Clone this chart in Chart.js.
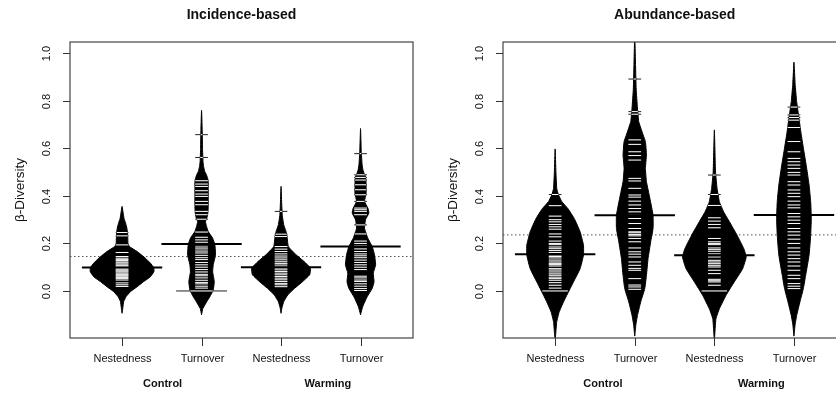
<!DOCTYPE html>
<html><head><meta charset="utf-8">
<script src="https://cdn.jsdelivr.net/npm/chart.js@4/dist/chart.umd.min.js"></script>
<style>
html,body{margin:0;padding:0;background:#fff;overflow:hidden;width:836px;height:393px;position:relative}
canvas{position:absolute;top:0}
#c1{left:0}
#c2{left:418px}
</style></head><body>
<canvas id="c1" width="418" height="393"></canvas>
<canvas id="c2" width="440" height="393"></canvas>
<script>
// ---------- labels ----------
const panelTitles = ["Incidence-based", "Abundance-based"];
const categories = ["Nestedness", "Turnover", "Nestedness", "Turnover"];
const groups = ["Control", "Warming"];
const yTicks = [0.0, 0.2, 0.4, 0.6, 0.8, 1.0];
const yTickLabels = ["0.0", "0.2", "0.4", "0.6", "0.8", "1.0"];
const yLabel = "β-Diversity";

// ---------- Incidence-based ----------
const incMeans = [0.099, 0.198, 0.100, 0.187];
const incOverall = 0.145;

const incCtrlNestY = [-0.094,-0.07,-0.045,-0.024,-0.003,0.018,0.039,0.06,0.081,0.098,0.117,0.138,0.166,0.187,0.2,0.24,0.265,0.285,0.305,0.332,0.356];
const incCtrlNestW = [0,0.01,0.02,0.05,0.105,0.19,0.27,0.357,0.40,0.40,0.357,0.294,0.19,0.092,0.075,0.07,0.06,0.045,0.025,0.012,0];
const incCtrlNestObs = [0.246,0.232,0.194,0.162,0.145,0.138,0.133,0.128,0.122,0.118,0.113,0.108,0.104,0.1,0.096,0.092,0.088,0.084,0.08,0.075,0.07,0.066,0.062,0.057,0.052,0.046,0.034,0.026,0.019];

const incCtrlTurnY = [-0.1,-0.075,-0.06,-0.04,-0.024,0.004,0.04,0.08,0.11,0.152,0.194,0.222,0.25,0.275,0.292,0.31,0.33,0.36,0.4,0.44,0.46,0.475,0.49,0.503,0.525,0.546,0.6,0.68,0.76];
const incCtrlTurnW = [0,0.015,0.04,0.075,0.105,0.147,0.16,0.14,0.147,0.176,0.168,0.14,0.084,0.06,0.05,0.07,0.08,0.084,0.084,0.084,0.084,0.076,0.06,0.04,0.025,0.018,0.012,0.008,0];
const incCtrlTurnObs = [0.658,0.562,0.464,0.45,0.44,0.422,0.408,0.398,0.377,0.363,0.335,0.321,0.302,0.248,0.226,0.215,0.205,0.195,0.185,0.177,0.168,0.16,0.15,0.14,0.132,0.12,0.11,0.1,0.09,0.08,0.07,0.064,0.055,0.045,0.036,0.03,0.02,0.012,0,0,0,0];

const incWarmNestY = [-0.094,-0.07,-0.045,-0.017,0.011,0.039,0.068,0.096,0.124,0.152,0.187,0.229,0.25,0.278,0.32,0.37,0.44];
const incWarmNestW = [0,0.012,0.034,0.084,0.17,0.27,0.36,0.37,0.29,0.19,0.092,0.076,0.063,0.034,0.015,0.008,0];
const incWarmNestObs = [0.335,0.239,0.229,0.187,0.176,0.166,0.156,0.147,0.139,0.131,0.123,0.116,0.109,0.102,0.096,0.089,0.082,0.075,0.068,0.061,0.054,0.047,0.04,0.032,0.026,0.018];

const incWarmTurnY = [-0.1,-0.08,-0.06,-0.024,0.011,0.039,0.075,0.11,0.152,0.187,0.222,0.264,0.3,0.328,0.349,0.377,0.41,0.45,0.48,0.49,0.51,0.532,0.58,0.684];
const incWarmTurnW = [0,0.015,0.034,0.084,0.147,0.17,0.16,0.19,0.176,0.147,0.092,0.05,0.063,0.105,0.092,0.05,0.07,0.07,0.065,0.05,0.03,0.02,0.01,0];
const incWarmTurnObs = [0.578,0.489,0.478,0.467,0.447,0.426,0.405,0.377,0.349,0.342,0.335,0.321,0.278,0.24,0.21,0.2,0.19,0.177,0.166,0.156,0.148,0.14,0.13,0.12,0.11,0.1,0.09,0.062,0.055,0.046,0.04,0.03,0.02,0.01,0.002];

// ---------- Abundance-based ----------
const abuMeans = [0.155, 0.319, 0.150, 0.320];
const abuOverall = 0.236;

const abuCtrlNestY = [-0.21,-0.17,-0.13,-0.089,-0.046,-0.004,0.038,0.094,0.151,0.193,0.249,0.305,0.347,0.376,0.406,0.432,0.5,0.598];
const abuCtrlNestW = [0,0.01,0.02,0.05,0.105,0.167,0.23,0.314,0.356,0.356,0.314,0.24,0.16,0.084,0.04,0.02,0.01,0];
const abuCtrlNestObs = [0.406,0.359,0.315,0.3,0.291,0.28,0.27,0.26,0.24,0.228,0.21,0.2,0.195,0.185,0.178,0.17,0.162,0.151,0.145,0.139,0.13,0.122,0.116,0.111,0.105,0.094,0.088,0.08,0.072,0.066,0.058,0.052,0.045,0.035,0.024,0.012,0,0];

const abuCtrlTurnY = [-0.19,-0.14,-0.103,-0.046,0.01,0.066,0.136,0.207,0.263,0.319,0.39,0.46,0.516,0.573,0.629,0.657,0.713,0.77,0.85,0.95,1.08];
const abuCtrlTurnW = [0,0.015,0.034,0.075,0.126,0.147,0.167,0.2,0.23,0.23,0.19,0.147,0.134,0.147,0.134,0.105,0.05,0.034,0.018,0.01,0];
const abuCtrlTurnObs = [0.892,0.755,0.744,0.636,0.617,0.586,0.57,0.551,0.474,0.463,0.432,0.404,0.395,0.378,0.362,0.347,0.333,0.319,0.305,0.284,0.263,0.249,0.245,0.238,0.232,0.221,0.207,0.181,0.165,0.155,0.143,0.122,0.108,0.095,0.087,0.052,0.025,0.017,0.007];

const abuWarmNestY = [-0.21,-0.16,-0.117,-0.075,-0.018,0.038,0.094,0.143,0.178,0.235,0.291,0.333,0.376,0.432,0.5,0.678];
const abuWarmNestW = [0,0.01,0.02,0.063,0.147,0.25,0.356,0.40,0.37,0.285,0.19,0.117,0.063,0.034,0.015,0];
const abuWarmNestObs = [0.488,0.406,0.36,0.308,0.294,0.28,0.266,0.221,0.207,0.2,0.195,0.181,0.174,0.167,0.156,0.15,0.143,0.129,0.122,0.115,0.108,0.101,0.087,0.073,0.049,0.043,0.038,0.024,0,0];

const abuWarmTurnY = [-0.19,-0.14,-0.103,-0.046,0.01,0.066,0.151,0.235,0.305,0.376,0.446,0.516,0.586,0.657,0.727,0.797,0.87,0.963];
const abuWarmTurnW = [0,0.015,0.034,0.075,0.118,0.147,0.19,0.21,0.218,0.21,0.19,0.16,0.126,0.092,0.063,0.034,0.015,0];
const abuWarmTurnObs = [0.774,0.741,0.73,0.719,0.688,0.629,0.586,0.558,0.544,0.53,0.516,0.499,0.488,0.46,0.446,0.425,0.411,0.397,0.378,0.362,0.35,0.326,0.312,0.298,0.284,0.263,0.249,0.235,0.218,0.2,0.181,0.165,0.151,0.136,0.122,0.105,0.087,0.066,0.052,0.031,0.02,0.01];

// ---------- drawing constants ----------
const X_MIN = 0.345, X_MAX = 4.66, Y_MIN = -0.198, Y_MAX = 1.048;
const HALF_LINE = 0.08, MAX_HALF_LINE = 0.48, MEAN_HALF = 0.505;
const FONT = '"Liberation Sans", Arial, Helvetica, sans-serif';

function widthAt(Y, W, v) {
  if (v <= Y[0] || v >= Y[Y.length - 1]) return 0;
  for (let i = 1; i < Y.length; i++) {
    if (v <= Y[i]) { const t = (v - Y[i-1]) / (Y[i] - Y[i-1]); return W[i-1] + t * (W[i] - W[i-1]); }
  }
  return 0;
}

function buildDatasets(p) {
  const ds = [];
  ds.push({ data: [{x: X_MIN, y: p.overall}, {x: X_MAX, y: p.overall}], borderColor: '#555', borderWidth: 1, borderDash: [1.5, 2.5], pointRadius: 0, fill: false, tension: 0, order: 10 });
  p.beans.forEach((b, i) => {
    const c = i + 1;
    const pts = [];
    for (let k = 0; k < b.Y.length; k++) pts.push({x: c + b.W[k], y: b.Y[k]});
    for (let k = b.Y.length - 2; k >= 0; k--) pts.push({x: c - b.W[k], y: b.Y[k]});
    ds.push({ data: pts, fill: 'shape', backgroundColor: '#000', borderColor: '#000', borderWidth: 1, tension: 0.12, pointRadius: 0, order: 5 });
    const counts = new Map();
    b.obs.forEach(v => counts.set(v, (counts.get(v) || 0) + 1));
    const blk = [], wht = [];
    counts.forEach((n, v) => {
      const L = Math.min(HALF_LINE * n, MAX_HALF_LINE);
      const w = Math.min(L, widthAt(b.Y, b.W, v));
      blk.push({x: c - L, y: v}, {x: c + L, y: v}, {x: c, y: null});
      if (w > 0) wht.push({x: c - w, y: v}, {x: c + w, y: v}, {x: c, y: null});
    });
    ds.push({ data: blk, borderColor: '#222', borderWidth: 1, pointRadius: 0, tension: 0, fill: false, spanGaps: false, order: 4 });
    ds.push({ data: wht, borderColor: '#fff', borderWidth: 1, pointRadius: 0, tension: 0, fill: false, spanGaps: false, order: 3 });
    ds.push({ data: [{x: c - MEAN_HALF, y: b.mean}, {x: c + MEAN_HALF, y: b.mean}], borderColor: '#000', borderWidth: 2, pointRadius: 0, tension: 0, fill: false, order: 1 });
  });
  return ds;
}

const deco = {
  id: 'deco',
  afterDraw(chart, args, o) {
    const ctx = chart.ctx, a = chart.chartArea, xs = chart.scales.x, ys = chart.scales.y;
    ctx.save();
    ctx.strokeStyle = '#444'; ctx.lineWidth = 1.2;
    ctx.strokeRect(a.left, a.top, a.right - a.left, a.bottom - a.top);
    ctx.strokeStyle = '#333'; ctx.lineWidth = 1;
    ctx.fillStyle = '#111';
    ctx.font = '11px ' + FONT;
    ctx.textAlign = 'center'; ctx.textBaseline = 'middle';
    yTicks.forEach((t, i) => {
      const py = Math.round(ys.getPixelForValue(t)) + 0.5;
      ctx.beginPath(); ctx.moveTo(a.left - 7, py); ctx.lineTo(a.left, py); ctx.stroke();
      ctx.save(); ctx.translate(a.left - 23, py); ctx.rotate(-Math.PI / 2);
      ctx.fillText(yTickLabels[i], 0, 0); ctx.restore();
    });
    categories.forEach((cName, i) => {
      const px = Math.round(xs.getPixelForValue(i + 1)) + 0.5;
      ctx.beginPath(); ctx.moveTo(px, a.bottom); ctx.lineTo(px, a.bottom + 8); ctx.stroke();
      ctx.fillText(cName, px, 359);
    });
    ctx.font = 'bold 11px ' + FONT;
    groups.forEach((g, i) => ctx.fillText(g, xs.getPixelForValue(o.groupPos[i]), 383.5));
    ctx.font = 'bold 14px ' + FONT;
    ctx.fillText(o.title, (a.left + a.right) / 2, 15.5);
    ctx.font = '13.5px ' + FONT;
    ctx.save(); ctx.translate(a.left - 50, (a.top + a.bottom) / 2); ctx.rotate(-Math.PI / 2);
    ctx.fillText(yLabel, 0, 0); ctx.restore();
    ctx.restore();
  }
};

function makeChart(id, p) {
  new Chart(document.getElementById(id), {
    type: 'line',
    data: { datasets: buildDatasets(p) },
    options: {
      responsive: false, animation: false, devicePixelRatio: 1,
      layout: { padding: p.padding },
      scales: {
        x: { type: 'linear', min: X_MIN, max: X_MAX, display: false },
        y: { type: 'linear', min: Y_MIN, max: Y_MAX, display: false }
      },
      plugins: { legend: { display: false }, tooltip: { enabled: false },
        deco: { title: p.title, groupPos: p.groupPos } }
    },
    plugins: [deco]
  });
}

makeChart('c1', {
  title: panelTitles[0], overall: incOverall, groupPos: [1.51, 3.59],
  padding: { left: 70, right: 5, top: 42, bottom: 55 },
  beans: [
    { Y: incCtrlNestY, W: incCtrlNestW, obs: incCtrlNestObs, mean: incMeans[0] },
    { Y: incCtrlTurnY, W: incCtrlTurnW, obs: incCtrlTurnObs, mean: incMeans[1] },
    { Y: incWarmNestY, W: incWarmNestW, obs: incWarmNestObs, mean: incMeans[2] },
    { Y: incWarmTurnY, W: incWarmTurnW, obs: incWarmTurnObs, mean: incMeans[3] }
  ]
});
makeChart('c2', {
  title: panelTitles[1], overall: abuOverall, groupPos: [1.60, 3.59],
  padding: { left: 85, right: 11.5, top: 42, bottom: 55 },
  beans: [
    { Y: abuCtrlNestY, W: abuCtrlNestW, obs: abuCtrlNestObs, mean: abuMeans[0] },
    { Y: abuCtrlTurnY, W: abuCtrlTurnW, obs: abuCtrlTurnObs, mean: abuMeans[1] },
    { Y: abuWarmNestY, W: abuWarmNestW, obs: abuWarmNestObs, mean: abuMeans[2] },
    { Y: abuWarmTurnY, W: abuWarmTurnW, obs: abuWarmTurnObs, mean: abuMeans[3] }
  ]
});
</script>
</body></html>
